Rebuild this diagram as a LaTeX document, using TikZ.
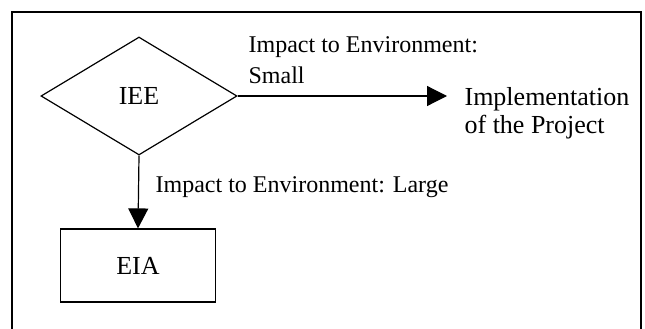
\documentclass[tikz,border=0pt]{standalone}
\usepackage{fontspec}
\setmainfont{Liberation Serif}
\usetikzlibrary{shapes.geometric,arrows.meta}

\begin{document}
\begin{tikzpicture}[x=1pt,y=1pt,yscale=-1,
	line width=1.2pt,
	bigfont/.style={font=\fontsize{26}{28}\selectfont},
	labelfont/.style={font=\fontsize{24}{31}\selectfont},
	decision/.style={shape=diamond,draw,bigfont,inner sep=0pt,minimum width=196pt,minimum height=118pt},
	process/.style={draw,bigfont,inner sep=0pt,minimum width=155pt,minimum height=73pt},
	flow/.style={-{Triangle[width=20pt,length=20pt]}}]
	\useasboundingbox (0,0) rectangle (645,329);
	
	%Frame, open at the bottom
	\draw (12,329) -- (12,12) -- (641,12) -- (641,329) ;
	
	%Shape: Diamond [id:iee]
	\node [decision] (iee) at (139,96) {IEE};
	%Shape: Rectangle [id:eia]
	\node [process] (eia) at (138,265.5) {EIA};
	
	% Text Node
	\node [bigfont,align=left,anchor=north west,inner xsep=17pt,inner ysep=0pt] (impl) at (447,87.2) {Implementation\\of the Project};
	
	%Straight Lines [id:small]
	\draw [flow] (iee.east) -- (iee.east -| impl.west) ;
	%Straight Lines [id:large]
	\draw [flow] (iee.south) -- (eia.north) ;
	
	% Text Node
	\node [labelfont,align=left,anchor=north west,inner sep=0pt] (smalllabel) at (248,35.6) {Impact to Environment:\\Small};
	% Text Node
	\node [labelfont,anchor=base west,inner sep=0pt] (largelabel) at (155,192) {Impact to Environment: Large};
	
\end{tikzpicture}
\end{document}
